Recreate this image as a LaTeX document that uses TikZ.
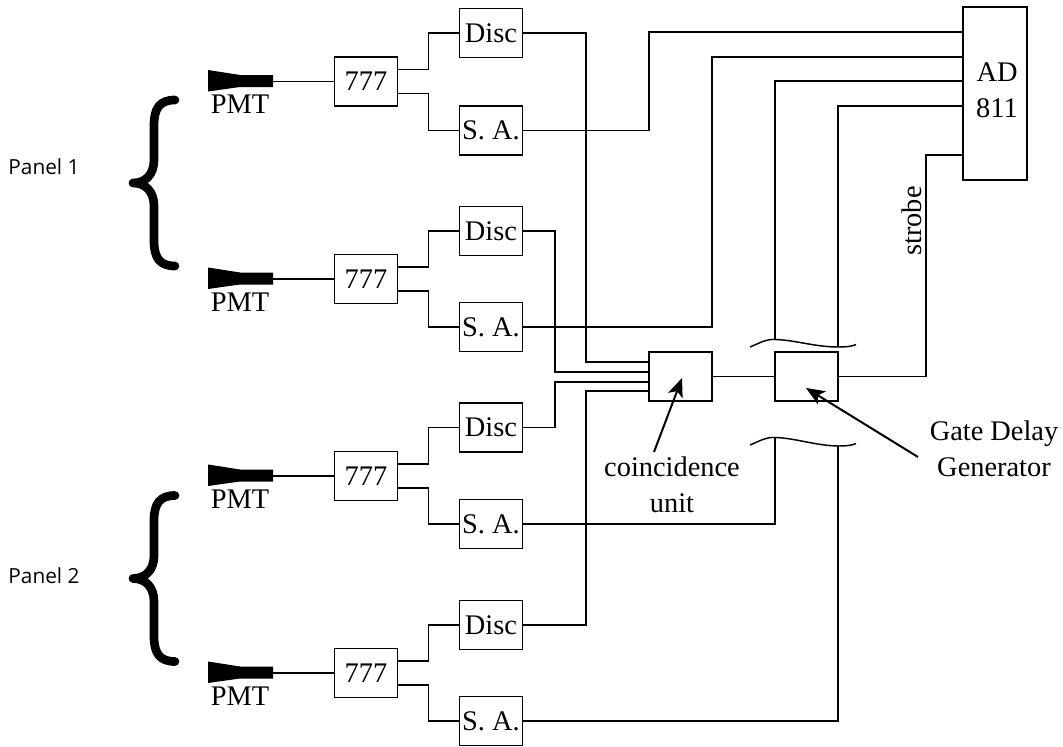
\documentclass[tikz,border=0pt]{standalone}
\usepackage{fontspec}
\setmainfont{Liberation Serif}
\newfontfamily\panelfont{Open Sans}
\usetikzlibrary{arrows.meta}
\tikzset{
  wire/.style={line width=1.15pt,line join=miter},
  boxed/.style={draw,line width=1.15pt,inner sep=0pt,minimum width=47.5pt,minimum height=37pt,align=center,font=\fontsize{21.3}{27}\selectfont},
  lbl/.style={inner sep=0pt,align=center,font=\fontsize{21.3}{27}\selectfont},
  panel/.style={inner sep=0pt,font=\panelfont\fontsize{15.6}{18}\selectfont},
  curly/.style={line width=6.5pt,line cap=round,line join=round},
  pointer/.style={line width=1.5pt,-{Stealth[length=14pt,width=11.5pt,inset=3.5pt]}},
  breakmark/.style={line width=1.1pt}
}
\begin{document}
\begin{tikzpicture}[x=0.75pt,y=-0.75pt]
\useasboundingbox (0,0) rectangle (1063,746);
% four channels
\foreach \i/\yu/\yd/\ys in {1/81.5/33/130.5,2/279/231/327,3/476/427.5/524,4/673/625/721}{
  \fill (208,\yu-11.5) -- (240,\yu-6.5) -- (273,\yu-6.5) -- (273,\yu+5.5) -- (240,\yu+5.5) -- (208,\yu+10) -- cycle;
  \coordinate (p\i) at (273,\yu);
  \node[lbl] (pmt\i) at (240,\yu+23) {PMT};
  \node[boxed] (u\i) at (366,\yu) {777};
  \node[boxed] (d\i) at (491,\yd) {Disc};
  \node[boxed] (s\i) at (491,\ys) {S. A.};
  \draw[wire] (p\i) -- (u\i.west);
  \draw[wire] ([yshift=9pt]u\i.east) -- ++(30,0) |- (d\i.west);
  \draw[wire] ([yshift=-9pt]u\i.east) -- ++(30,0) |- (s\i.west);
}
% central units
\node[boxed] (co) at (680.5,376.5) {};
\node[boxed] (gd) at (806.5,376.5) {};
\node[boxed,minimum width=48pt,minimum height=130pt] (ad) at (995,93.5) {};
\node[lbl] (adt) at (997,90) {AD\\ 811};
\coordinate (a1) at (963,32);
\coordinate (a2) at (963,57);
\coordinate (a3) at (963,81);
\coordinate (a4) at (963,106);
\coordinate (a5) at (963,155);
\coordinate (c1) at (649,362);
\coordinate (c2) at (649,372);
\coordinate (c3) at (649,382);
\coordinate (c4) at (649,391);
% discriminators to coincidence
\draw[wire] (d1.east) -| (586,362) -- (c1);
\draw[wire] (d2.east) -| (555,372) -- (c2);
\draw[wire] (d3.east) -| (555,382) -- (c3);
\draw[wire] (d4.east) -| (586,391) -- (c4);
\draw[wire] (co.east) -- (gd.west);
% analog signals to ADC
\draw[wire] (s1.east) -| (649,32) -- (a1);
\draw[wire] (s2.east) -| (712,57) -- (a2);
\coordinate (t3) at (775,339);
\coordinate (t4) at (838,347);
\coordinate (b3) at (775,438);
\coordinate (b4) at (838,446);
\draw[wire] (t3) |- (a3);
\draw[wire] (t4) |- (a4);
\draw[wire] (s3.east) -| (b3);
\draw[wire] (s4.east) -| (b4);
\draw[wire] (gd.east) -| (926,155) -- (a5);
% break marks
\draw[breakmark] (750,347) .. controls (762,342) and (766,339) .. (775,339.5) .. controls (795,340) and (815,347) .. (838,347) .. controls (848,347) and (853,346) .. (856,344.5);
\draw[breakmark] (750,445) .. controls (762,440) and (766,437) .. (775,437.5) .. controls (795,438) and (815,445.5) .. (838,446) .. controls (848,446) and (853,445) .. (856,443.5);
% braces
\foreach \o in {0,395.5}{
  \draw[curly] (175,100+\o) .. controls (160,100+\o) and (154,108+\o) .. (154,125+\o) -- (154,160+\o) .. controls (154,175+\o) and (145,183+\o) .. (133,183+\o) .. controls (145,183+\o) and (154,191+\o) .. (154,206+\o) -- (154,241+\o) .. controls (154,258+\o) and (160,266+\o) .. (175,266+\o);
}
% labels
\node[panel] (pa) at (44,167) {Panel 1};
\node[panel] (pb) at (44,576) {Panel 2};
\node[lbl] (cl) at (672,485) {coincidence\\unit};
\node[lbl] (gl) at (994,449) {Gate Delay\\Generator};
\node[lbl,rotate=90] (st) at (912,221) {strobe};
\coordinate (ct) at (682,378);
\coordinate (gt) at (806,388);
\draw[pointer] (654,452) -- (ct);
\draw[pointer] (918,457) -- (gt);
\end{tikzpicture}
\end{document}
